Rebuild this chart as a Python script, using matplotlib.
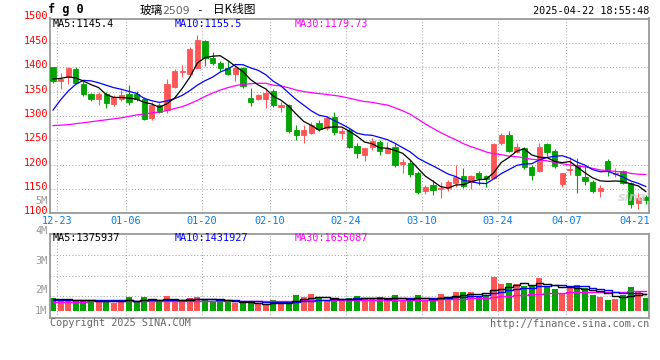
import matplotlib
matplotlib.use('Agg')
import matplotlib.pyplot as plt
import matplotlib.transforms as mtransforms
import numpy as np
import pandas as pd

plt.rcParams['font.family'] = ['DejaVu Sans Mono', 'Noto Sans CJK SC']

# ---------------- data ----------------
opens = [1400, 1372, 1381, 1396, 1366, 1344, 1335, 1344, 1325, 1335,
         1344, 1344, 1335, 1296, 1322, 1312, 1359, 1391, 1386, 1398,
         1454, 1418, 1409, 1398, 1387, 1398, 1337, 1335, 1334, 1352,
         1319, 1322, 1271, 1260, 1264, 1286, 1275, 1297, 1264, 1271,
         1238, 1220, 1236, 1246, 1223, 1237, 1201, 1204, 1182, 1145,
         1158, 1149, 1151, 1162, 1177, 1165, 1182, 1177, 1172, 1245,
         1261, 1226, 1234, 1195, 1187, 1242, 1227, 1160, 1189, 1199,
         1175, 1165, 1145, 1208, 1181, 1186, 1162, 1122, 1134]
highs = [1401, 1389, 1401, 1401, 1372, 1348, 1349, 1349, 1343, 1353,
         1363, 1352, 1339, 1328, 1327, 1376, 1396, 1405, 1442, 1467,
         1456, 1431, 1413, 1412, 1403, 1400, 1357, 1344, 1355, 1355,
         1329, 1324, 1281, 1281, 1288, 1292, 1300, 1307, 1275, 1275,
         1244, 1235, 1254, 1251, 1247, 1244, 1211, 1210, 1186, 1158,
         1169, 1165, 1169, 1199, 1192, 1179, 1186, 1179, 1244, 1264,
         1268, 1244, 1236, 1200, 1244, 1245, 1232, 1182, 1216, 1213,
         1200, 1168, 1158, 1211, 1192, 1189, 1165, 1141, 1137]
lows = [1368, 1356, 1366, 1366, 1340, 1331, 1322, 1316, 1321, 1330,
        1322, 1331, 1291, 1291, 1305, 1305, 1357, 1379, 1383, 1396,
        1402, 1405, 1393, 1384, 1371, 1358, 1321, 1333, 1316, 1318,
        1309, 1265, 1251, 1244, 1262, 1270, 1272, 1261, 1252, 1235,
        1213, 1208, 1231, 1219, 1222, 1195, 1182, 1175, 1139, 1139,
        1138, 1132, 1145, 1154, 1151, 1149, 1158, 1153, 1170, 1240,
        1225, 1224, 1190, 1169, 1185, 1218, 1192, 1153, 1179, 1141,
        1158, 1141, 1134, 1176, 1175, 1160, 1110, 1108, 1119]
closes = [1372, 1375, 1399, 1368, 1344, 1335, 1345, 1327, 1339, 1343,
          1328, 1335, 1294, 1322, 1309, 1365, 1393, 1393, 1437, 1456,
          1418, 1409, 1398, 1387, 1398, 1362, 1328, 1343, 1346, 1322,
          1322, 1268, 1260, 1271, 1281, 1273, 1296, 1266, 1270, 1237,
          1223, 1235, 1249, 1227, 1235, 1199, 1206, 1180, 1143, 1153,
          1147, 1151, 1165, 1175, 1156, 1177, 1172, 1171, 1242, 1261,
          1228, 1236, 1195, 1179, 1237, 1225, 1197, 1182, 1191, 1179,
          1167, 1145, 1151, 1186, 1183, 1162, 1120, 1131, 1127]
# volume in 10k lots
volumes = [123, 106, 106, 101, 101, 101, 101, 93, 86, 106,
           130, 93, 130, 106, 88, 138, 101, 93, 121, 130,
           113, 98, 98, 98, 81, 81, 81, 73, 73, 106,
           96, 86, 143, 130, 150, 118, 98, 118, 98, 118,
           135, 118, 118, 126, 106, 140, 106, 106, 140, 106,
           118, 150, 118, 168, 165, 168, 135, 140, 277, 225,
           232, 225, 210, 210, 270, 205, 188, 155, 193, 218,
           193, 143, 126, 106, 113, 143, 203, 168, 123]

# moving-average values at the start of the window
ma5_head = [1376, 1377, 1380, 1378]
ma10_head = [1312, 1333, 1351, 1365, 1373, 1372, 1368, 1363, 1358]
ma30_head = [1280, 1281, 1282, 1284, 1286, 1288, 1290, 1292, 1294, 1296,
             1299, 1302, 1304, 1306, 1308, 1311, 1315, 1319, 1325, 1332,
             1340, 1347, 1353, 1358, 1362, 1365, 1366, 1367, 1367]
vma5_head = [113, 112, 111, 109]
vma10_head = [104, 104, 104, 105, 105, 104, 104, 103, 103]
vma30_head = [94, 94, 94, 94, 94, 95, 95, 95, 95, 95,
              95, 95, 96, 96, 96, 96, 96, 97, 97, 97,
              97, 97, 97, 97, 97, 97, 96, 96, 96]

date_labels = ['12-23', '01-06', '01-20', '02-10', '02-24', '03-10', '03-24', '04-07', '04-21']
date_label_idx = [0, 9, 19, 28, 38, 48, 58, 67, 77]
price_ticks = [1100, 1150, 1200, 1250, 1300, 1350, 1400, 1450, 1500]
vol_labels = ['5M', '4M', '3M', '2M', '1M']

legend_price = ['MA5:1145.4', 'MA10:1155.5', 'MA30:1179.73']
legend_vol = ['MA5:1375937', 'MA10:1431927', 'MA30:1655087']


def moving(vals, n, head):
    s = pd.Series(vals, dtype=float).rolling(n).mean().to_numpy()
    s[:n - 1] = head
    return s


# ---------------- layout ----------------
W, H = 660, 360
fig = plt.figure(figsize=(W / 100, H / 100), dpi=100)
fig.patch.set_facecolor('white')


def fx(x):
    return x / W


def fy(y):
    return 1 - y / H


RED = '#ff5555'
GREEN = '#00a300'
GRID = '#a8a8a8'
SPINE = '#9a9a9a'

n = len(closes)
idx = np.arange(n)
xl = (-0.395, 78.42)

# main panel
ax = fig.add_axes([fx(50), fy(213.3), fx(649) - fx(50), fy(18.5) - fy(213.3)])
ax.set_xlim(*xl)
ax.set_ylim(1100, 1500)
# volume panel
ax2 = fig.add_axes([fx(50), fy(318.3), fx(649) - fx(50), fy(234.3) - fy(318.3)])
ax2.set_xlim(*xl)
ax2.set_ylim(-30.7, 596)

for a in (ax, ax2):
    a.set_xticks([])
    for s in a.spines.values():
        s.set_color(SPINE)
        s.set_linewidth(1.3)
    a.tick_params(length=0)
    a.set_facecolor('white')

# grids
for p in price_ticks[1:-1]:
    ax.axhline(p, color=GRID, lw=0.75, linestyle=(0, (1, 2)), zorder=0)
for v in (132, 285, 438):
    ax2.axhline(v, color=GRID, lw=0.75, linestyle=(0, (1, 2)), zorder=0)
for k in date_label_idx[:-1]:
    ax.axvline(k + 0.55, color=GRID, lw=0.75, linestyle=(0, (1, 2)), zorder=0)
    ax2.axvline(k + 0.55, color=GRID, lw=0.75, linestyle=(0, (1, 2)), zorder=0)

# y tick labels (shifted slightly up like the original)
ax.set_yticks(price_ticks)
ax.set_yticklabels([str(p) for p in price_ticks], color='#ff0000', fontsize=7.4)
ax.tick_params(axis='y', pad=1.5)
shift = mtransforms.ScaledTranslation(0, 2 / 100, fig.dpi_scale_trans)
for lab in ax.get_yticklabels():
    lab.set_verticalalignment('center')
    lab.set_transform(lab.get_transform() + shift)
ax2.set_yticks([])

# candles
for i in idx:
    o, h, l, c = opens[i], highs[i], lows[i], closes[i]
    col = RED if c >= o else GREEN
    ax.vlines(i, l, h, color=col, lw=0.8, zorder=2)
    ax.bar(i, abs(c - o), bottom=min(o, c), width=0.7, color=col,
           edgecolor=col, linewidth=0.6, zorder=3)

ma5 = moving(closes, 5, ma5_head)
ma10 = moving(closes, 10, ma10_head)
ma30 = moving(closes, 30, ma30_head)
ax.plot(idx, ma30, color='#ff00ff', lw=0.9, zorder=4)
ax.plot(idx, ma10, color='#0000ff', lw=0.9, zorder=4)
ax.plot(idx, ma5, color='#000000', lw=0.9, zorder=4)

# volume bars
base = 26
for i in idx:
    col = RED if closes[i] >= opens[i] else GREEN
    ax2.bar(i, volumes[i] - base, bottom=base, width=0.78, color=col, linewidth=0, zorder=2)

vma5 = moving(volumes, 5, vma5_head)
vma10 = moving(volumes, 10, vma10_head)
vma30 = moving(volumes, 30, vma30_head)
ax2.step(idx, vma30, where='mid', color='#ff00ff', lw=1.0, zorder=4)
ax2.step(idx, vma10, where='mid', color='#0000ff', lw=1.0, zorder=4)
ax2.step(idx, vma5, where='mid', color='#000000', lw=1.0, zorder=4)

# date labels
trans = mtransforms.blended_transform_factory(ax.transData, fig.transFigure)
for k, lab in zip(date_label_idx[:-1], date_labels[:-1]):
    ax.text(k + 0.55, fy(221.5), lab, transform=trans, ha='center', va='center',
            color='#0a7ee0', fontsize=7.4)
fig.text(fx(650), fy(221.5), date_labels[-1], ha='right', va='center',
         color='#0a7ee0', fontsize=7.4)

# legends
for x0, s, col in zip((53, 175, 295), legend_price, ('#000000', '#0000ff', '#ff00ff')):
    fig.text(fx(x0), fy(24.2), s, ha='left', va='center', color=col, fontsize=7.3)
for x0, s, col in zip((53, 175, 295), legend_vol, ('#000000', '#0000ff', '#ff00ff')):
    fig.text(fx(x0), fy(238.3), s, ha='left', va='center', color=col, fontsize=7.3)

# volume axis labels
for s, y in zip(vol_labels, (201, 230.7, 260.7, 290, 310.7)):
    fig.text(fx(47.5), fy(y), s, ha='right', va='center', color='#999999', fontsize=7.4)

# header
fig.text(fx(48), fy(10), 'f g 0', ha='left', va='center', color='#000000',
         fontsize=8.6, fontweight='bold')
fig.text(fx(140), fy(10), '玻璃', ha='left', va='center', color='#000000',
         fontsize=8.4, family=['Noto Sans CJK SC'])
fig.text(fx(162.5), fy(10.5), '2509', ha='left', va='center', color='#666666',
         fontsize=7.8, family=['DejaVu Sans'])
fig.text(fx(199.5), fy(10), '-', ha='center', va='center', color='#000000', fontsize=8)
fig.text(fx(213), fy(10), '日K线图', ha='left', va='center', color='#000000',
         fontsize=8.4, family=['Noto Sans CJK SC'])
fig.text(fx(649), fy(11), '2025-04-22 18:55:48', ha='right', va='center',
         color='#000000', fontsize=7.3)

# footer
fig.text(fx(50), fy(323.5), 'Copyright 2025 SINA.COM', ha='left', va='center',
         color='#666666', fontsize=7.3)
fig.text(fx(649), fy(324), 'http://finance.sina.com.cn', ha='right', va='center',
         color='#666666', fontsize=7.3)

# watermark
fig.text(fx(632), fy(197), 'sina', ha='center', va='center', color='#d0d0d0',
         fontsize=9, fontweight='bold', style='italic', family=['DejaVu Sans'], alpha=0.8)

fig.savefig('out.png', dpi=100)
